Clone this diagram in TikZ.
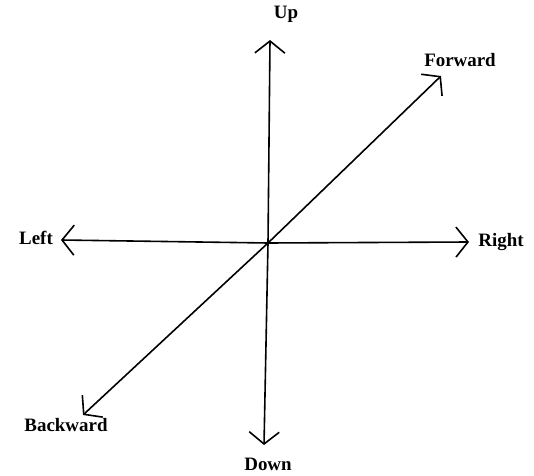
\documentclass[tikz,border=0pt]{standalone}
\usepackage{fontspec}
\setmainfont{Liberation Serif}
\usetikzlibrary{arrows.meta}
\tikzset{
  dir/.style={-{Straight Barb[length=12bp,width=30bp,line width=1.6bp]}, line width=1.6bp},
  dirlabel/.style={font=\bfseries\fontsize{19}{22}\selectfont, inner sep=1bp}
}
\begin{document}
\begin{tikzpicture}[x=1bp, y=-1bp]
\useasboundingbox (0,0) rectangle (534,476);
\coordinate (o) at (268,243);
% tips of the arrows
\coordinate (up) at (270,40);
\coordinate (down) at (264,445);
\coordinate (left) at (61,240);
\coordinate (right) at (469,242);
\coordinate (fwd) at (441,76);
\coordinate (back) at (83,415);
% labels
\node[dirlabel] (uplbl) at (286,14) {Up};
\node[dirlabel] (downlbl) at (268,464) {Down};
\node[dirlabel] (leftlbl) at (36,238) {Left};
\node[dirlabel] (rightlbl) at (501,242) {Right};
\node[dirlabel] (fwdlbl) at (460,60) {Forward};
\node[dirlabel] (backlbl) at (66,425) {Backward};
% axes
\draw[dir] (o) -- (up);
\draw[dir] (o) -- (down);
\draw[dir] (o) -- (left);
\draw[dir] (o) -- (right);
\draw[dir] (o) -- (fwd);
\draw[dir] (o) -- (back);
\end{tikzpicture}
\end{document}
